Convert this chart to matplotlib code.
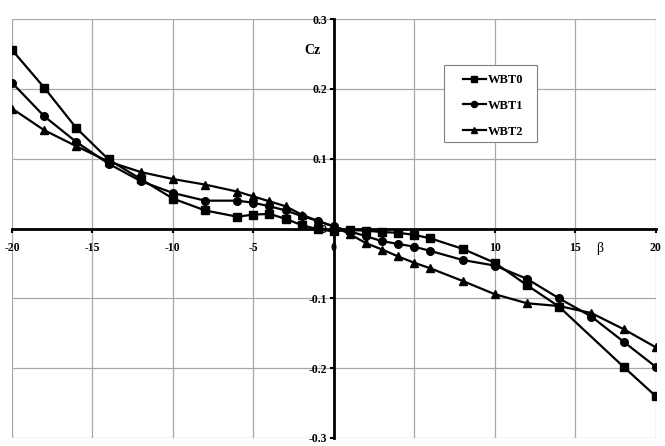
import matplotlib
matplotlib.use('Agg')
from matplotlib import pyplot as plt
from matplotlib.patches import Rectangle

plt.rcParams['axes.unicode_minus'] = False

# sideslip angle beta (deg) and side force coefficient Cz for three configurations
beta_wbt0 = [-20, -18, -16, -14, -12, -10, -8, -6, -5, -4, -3, -2, -1, 0,
             1, 2, 3, 4, 5, 6, 8, 10, 12, 14, 18, 20]
cz_wbt0 = [0.256, 0.202, 0.144, 0.099, 0.071, 0.043, 0.026, 0.017, 0.020, 0.021,
           0.014, 0.005, -0.001, -0.004, -0.002, -0.003, -0.005, -0.006, -0.009,
           -0.014, -0.029, -0.049, -0.081, -0.112, -0.198, -0.240]

beta_all = [-20, -18, -16, -14, -12, -10, -8, -6, -5, -4, -3, -2, -1, 0,
            1, 2, 3, 4, 5, 6, 8, 10, 12, 14, 16, 18, 20]
cz_wbt1 = [0.209, 0.161, 0.124, 0.093, 0.068, 0.051, 0.040, 0.040, 0.037, 0.032,
           0.026, 0.018, 0.011, 0.003, -0.004, -0.011, -0.018, -0.022, -0.026,
           -0.032, -0.045, -0.053, -0.072, -0.100, -0.126, -0.162, -0.198]
cz_wbt2 = [0.172, 0.141, 0.118, 0.096, 0.081, 0.071, 0.063, 0.053, 0.046, 0.039,
           0.032, 0.020, 0.011, 0.003, -0.008, -0.021, -0.030, -0.040, -0.049,
           -0.057, -0.075, -0.094, -0.107, -0.111, -0.121, -0.144, -0.170]

serif = 'Liberation Serif'

fig = plt.figure(figsize=(6.65, 4.46), dpi=100)
ax = fig.add_axes([0.018, 0.018, 0.968, 0.939])

# lines drawn above tick labels, like the original
ax.plot(beta_wbt0, cz_wbt0, 'k-', marker='s', ms=5.5, lw=1.6, label='WBT0', zorder=4)
ax.plot(beta_all, cz_wbt1, 'k-', marker='o', ms=5.5, lw=1.6, label='WBT1', zorder=4)
ax.plot(beta_all, cz_wbt2, 'k-', marker='^', ms=6, lw=1.6, label='WBT2', zorder=4)

ax.set_xlim(-20, 20)
ax.set_ylim(-0.3, 0.3)
ax.set_xticks(range(-20, 21, 5))
ax.set_yticks([-0.3, -0.2, -0.1, 0, 0.1, 0.2, 0.3])
ax.set_yticklabels(['-0.3', '-0.2', '-0.1', '0', '0.1', '0.2', '0.3'])
ax.grid(True, color='#a8a8a8', lw=0.9)
ax.set_axisbelow(True)

# axes cross at the origin
ax.spines['left'].set_position(('data', 0))
ax.spines['bottom'].set_position(('data', 0))
ax.spines['left'].set_linewidth(2)
ax.spines['bottom'].set_linewidth(2)
ax.spines['left'].set_zorder(3)
ax.spines['bottom'].set_zorder(3)
ax.spines['right'].set_visible(False)
ax.spines['top'].set_visible(False)

ax.tick_params(direction='out', length=3, width=1.5, colors='k', labelsize=8.5)
ax.tick_params(axis='x', pad=7)
ax.tick_params(axis='y', pad=2)
for lbl in ax.get_xticklabels() + ax.get_yticklabels():
    lbl.set_family(serif)
    lbl.set_fontweight('bold')
    lbl.set_zorder(2.5)

ax.text(-1.3, 0.255, 'Cz', family=serif, fontweight='bold', fontsize=10,
        ha='center', va='center')
ax.text(16.5, -0.029, 'β', family=serif, fontsize=10, ha='center', va='center')

# legend box drawn separately to get the wide side padding of the original
box = Rectangle((0.671, 0.706), 0.144, 0.184, transform=ax.transAxes,
                facecolor='white', edgecolor='#808080', lw=0.8, zorder=5)
ax.add_patch(box)
leg = ax.legend(loc='upper left', bbox_to_anchor=(0.700, 0.869), frameon=False,
                prop={'family': serif, 'weight': 'bold', 'size': 9},
                handlelength=1.9, labelspacing=1.1, borderpad=0,
                handletextpad=0.1, borderaxespad=0, markerscale=0.8)
leg.set_zorder(6)

fig.savefig('out.png', dpi=100)
